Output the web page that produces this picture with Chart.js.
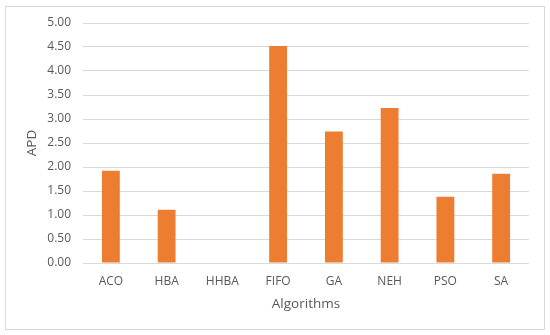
<!DOCTYPE html>
<html>
<head>
    <title>APD by Algorithm</title>
    <script src="https://cdn.jsdelivr.net/npm/chart.js"></script>
    <style>
        body { margin: 0; background: #fff; }
        #wrap { position: relative; width: 550px; height: 335px; }
    </style>
</head>
<body>
    <div id="wrap"><canvas id="apdChart" width="550" height="335"></canvas></div>

    <script>
        const algorithms = ['ACO', 'HBA', 'HHBA', 'FIFO', 'GA', 'NEH', 'PSO', 'SA'];
        const apdValues = [1.92, 1.11, 0, 4.52, 2.74, 3.23, 1.38, 1.86];
        const yTicks = [0, 0.5, 1, 1.5, 2, 2.5, 3, 3.5, 4, 4.5, 5];

        const textColor = '#595959';
        const gridColor = '#D9D9D9';

        // outer frame like the exported chart box
        const frame = {
            id: 'frame',
            beforeDraw(chart) {
                const ctx = chart.ctx;
                ctx.save();
                ctx.fillStyle = '#fff';
                ctx.fillRect(0, 0, chart.width, chart.height);
                ctx.strokeStyle = gridColor;
                ctx.lineWidth = 1;
                ctx.strokeRect(5.5, 6.5, 539, 323);
                ctx.restore();
            }
        };

        new Chart(document.getElementById('apdChart'), {
            type: 'bar',
            data: {
                labels: algorithms,
                datasets: [{
                    label: 'APD',
                    data: apdValues,
                    backgroundColor: '#ED7D31',
                    barPercentage: 0.32,
                    categoryPercentage: 1.0
                }]
            },
            options: {
                responsive: false,
                animation: false,
                layout: { padding: { left: 0, top: 23, right: 21, bottom: 0 } },
                plugins: {
                    legend: { display: false },
                    tooltip: { enabled: false }
                },
                scales: {
                    x: {
                        grid: { display: false, drawTicks: false },
                        border: { display: false },
                        ticks: {
                            color: textColor,
                            font: { family: 'Open Sans', size: 12 },
                            padding: 11,
                            maxRotation: 0
                        },
                        title: {
                            display: true,
                            text: 'Algorithms',
                            color: textColor,
                            font: { family: 'Open Sans', size: 13.5 },
                            padding: { top: 4, bottom: 23 }
                        },
                        afterFit(scale) { scale.height = 72; }
                    },
                    y: {
                        min: 0,
                        max: 5,
                        afterBuildTicks(scale) {
                            scale.ticks = yTicks.map(v => ({ value: v }));
                        },
                        grid: { color: gridColor, lineWidth: 1, drawTicks: false },
                        border: { display: false },
                        ticks: {
                            color: textColor,
                            font: { family: 'Open Sans', size: 12 },
                            padding: 12,
                            callback: v => Number(v).toFixed(2)
                        },
                        title: {
                            display: true,
                            text: 'APD',
                            color: textColor,
                            font: { family: 'Open Sans', size: 13.5 },
                            padding: { top: 24, bottom: 2 }
                        },
                        afterFit(scale) { scale.width = 83; }
                    }
                }
            },
            plugins: [frame]
        });
    </script>
</body>
</html>
